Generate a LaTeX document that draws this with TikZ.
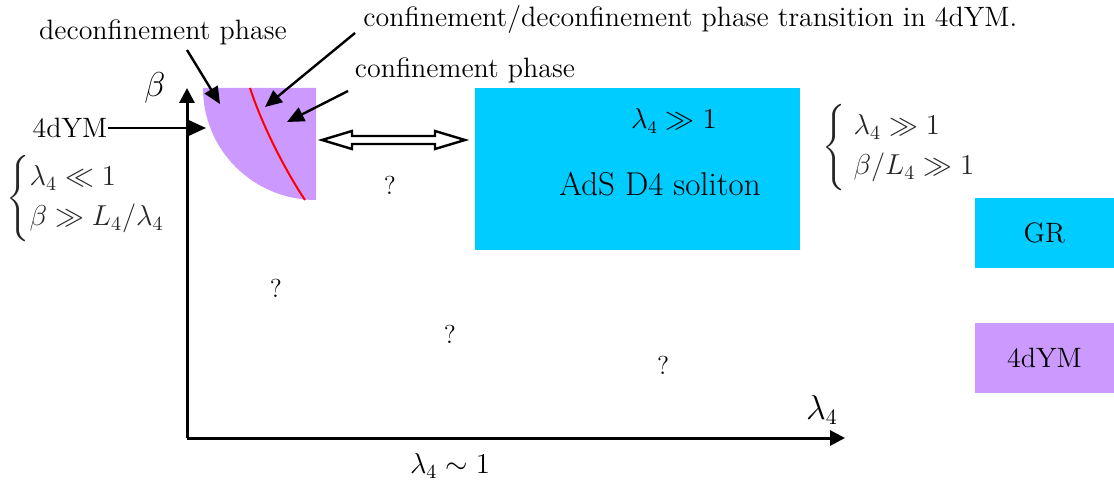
\documentclass[tikz,border=0pt]{standalone}
\usepackage{fontspec}
\usepackage{amsmath}
\usetikzlibrary{arrows.meta}
\definecolor{cyanbox}{RGB}{0,204,255}
\definecolor{purplebox}{RGB}{204,153,255}
\tikzset{
  lbl/.style={inner sep=0pt, font=\fontsize{14}{17}\selectfont},
  axisline/.style={line width=1.5pt, -{Triangle[length=7.5pt,width=7.5pt]}},
  pointer/.style={line width=1.2pt, -{Triangle[length=8.5pt,width=7.5pt]}},
  qmark/.style={inner sep=0pt, font=\fontsize{13}{15}\selectfont},
}
\begin{document}
\begin{tikzpicture}[x=0.5pt,y=-0.5pt]
\useasboundingbox (0,0) rectangle (1114,481);
% purple phase region
\fill[purplebox] (316,88) -- (203,88) .. controls (203,150.4) and (253.6,200) .. (316,200) -- cycle;
\draw[red, line width=1pt] (250,88) .. controls (262,125) and (285,170) .. (305,200);
% axes
\coordinate (O) at (187,438);
\coordinate (ytip) at (187,88);
\coordinate (xtip) at (845,438);
\draw[axisline] (O) -- (ytip);
\draw[axisline] (O) -- (xtip);
\node[lbl, font=\fontsize{17}{20}\selectfont] (beta) at (155,88) {$\beta$};
\node[lbl, font=\fontsize{16}{19}\selectfont] (lam) at (822,410) {$\lambda_4$};
\node[lbl] (lamsim) at (450,466) {$\lambda_4\sim 1$};
% labels with pointers
\node[lbl] (deconf) at (163,32) {deconfinement phase};
\coordinate (deconfS) at (187,50);
\coordinate (deconfT) at (220,104);
\draw[pointer] (deconfS) -- (deconfT);
\node[lbl, anchor=west] (trans) at (363,20) {confinement/deconfinement phase transition in 4dYM.};
\coordinate (transS) at (355,33);
\coordinate (transT) at (265,107);
\draw[pointer] (transS) -- (transT);
\node[lbl] (conf) at (465,70) {confinement phase};
\coordinate (confS) at (348,91);
\coordinate (confT) at (287,122);
\draw[pointer] (confS) -- (confT);
\node[lbl] (ym) at (70,128) {4dYM};
\coordinate (ymT) at (206,128);
\draw[pointer] (ym.east) -- (ymT);
% left brace
\node[lbl, anchor=west, text=black!85] (leftcond) at (6,199) {$\left\{\rule[-16.5pt]{0pt}{40pt}\begin{array}{@{}l@{}}\lambda_4\ll 1\\[3pt] \beta\gg L_4/\lambda_4\end{array}\right.$};
% double arrow
\draw[line width=1.2pt, fill=white] (322,140) -- (352,131) -- (352,136) -- (435,136) -- (435,131) -- (465,140) -- (435,149) -- (435,144) -- (352,144) -- (352,149) -- cycle;
% AdS box
\node[fill=cyanbox, minimum width=162.5pt, minimum height=81pt, inner sep=0pt] (ads) at (637.5,169) {};
\node[lbl, font=\fontsize{13.5}{16}\selectfont] (adslam) at (674,121) {$\lambda_4\gg 1$};
\node[lbl, font=\fontsize{16.5}{19}\selectfont] (adstxt) at (660,184) {AdS D4 soliton};
% right brace
\node[lbl, anchor=west, text=black!85] (rightcond) at (822,148) {$\left\{\rule[-16.5pt]{0pt}{40pt}\;\begin{array}{@{}l@{}}\lambda_4\gg 1\\[3pt] \beta/L_4\gg 1\end{array}\right.$};
% legend
\node[fill=cyanbox, minimum width=69.5pt, minimum height=35pt, inner sep=0pt, font=\fontsize{14}{17}\selectfont] (gr) at (1044.5,233) {GR};
\node[fill=purplebox, minimum width=69.5pt, minimum height=35pt, inner sep=0pt, font=\fontsize{14}{17}\selectfont] (ymbox) at (1044.5,357.5) {4dYM};
% question marks
\node[qmark] (q1) at (390,185) {?};
\node[qmark] (q2) at (276,288) {?};
\node[qmark] (q3) at (450,334) {?};
\node[qmark] (q4) at (663,365) {?};
\end{tikzpicture}
\end{document}
